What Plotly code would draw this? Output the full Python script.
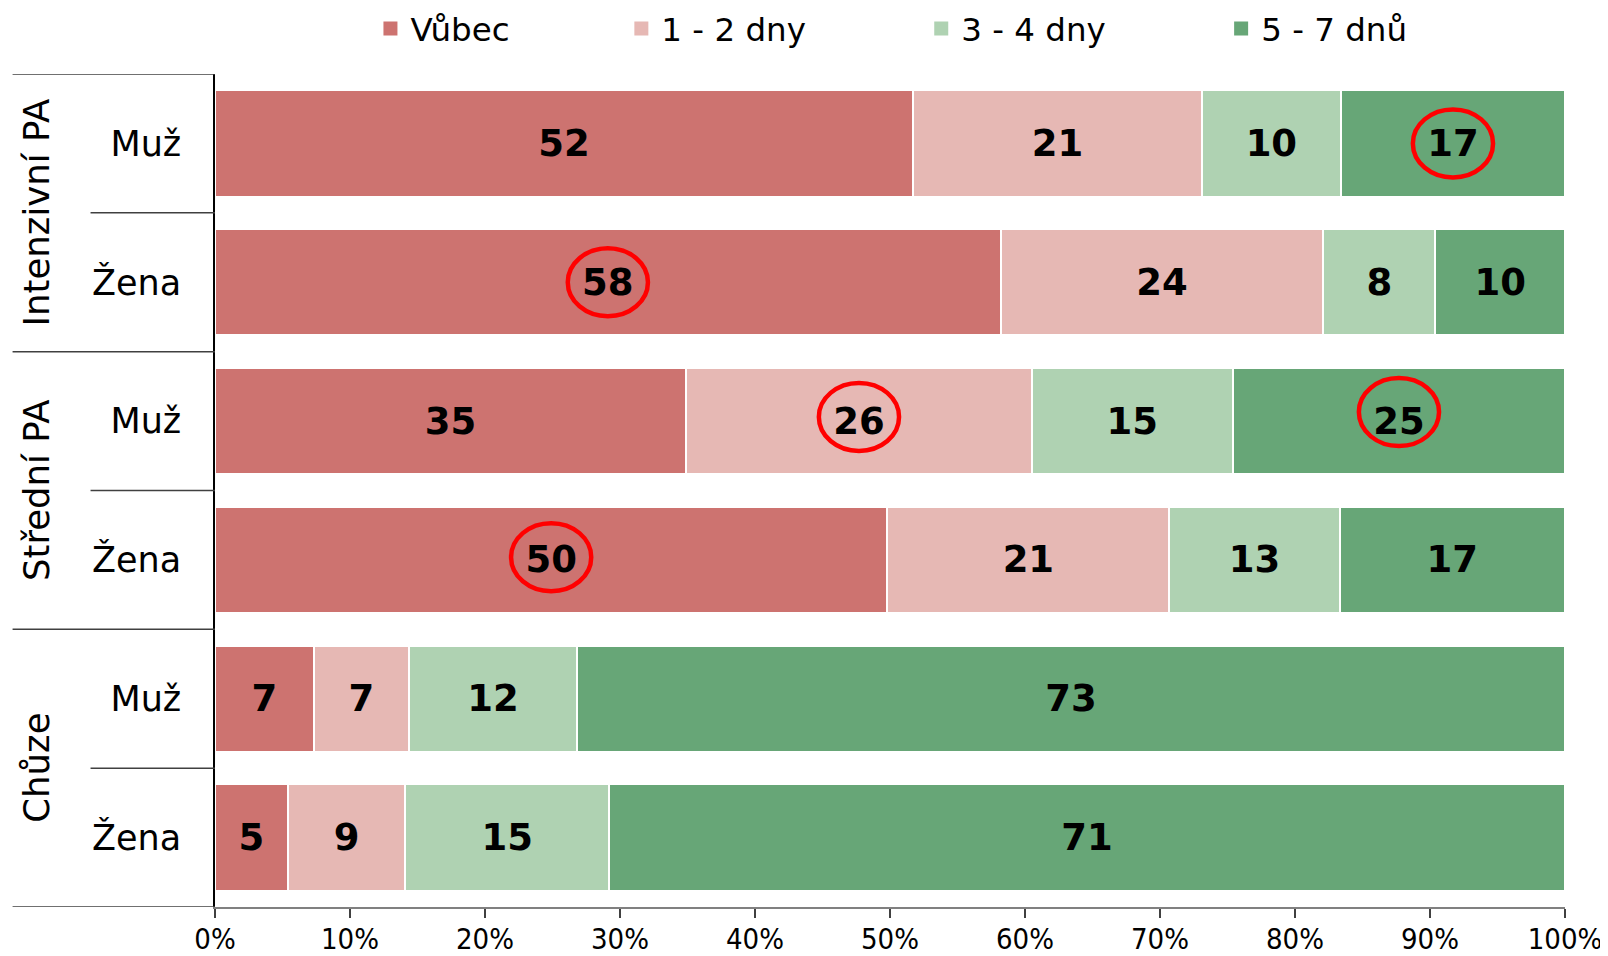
import plotly.graph_objects as go

# ---- data ----
groups = ["Intenzivní PA", "Střední PA", "Chůze"]
rows = ["Muž", "Žena", "Muž", "Žena", "Muž", "Žena"]
series_names = ["Vůbec", "1 - 2 dny", "3 - 4 dny", "5 - 7 dnů"]
vubec = [51.7, 58.2, 34.9, 49.8, 7.3, 5.4]
dny_1_2 = [21.4, 23.9, 25.6, 20.9, 7.1, 8.7]
dny_3_4 = [10.3, 8.3, 14.9, 12.6, 12.4, 15.1]
dny_5_7 = [16.6, 9.6, 24.6, 16.7, 73.2, 70.8]
x_ticks = [0, 10, 20, 30, 40, 50, 60, 70, 80, 90, 100]
x_tick_labels = ["0%", "10%", "20%", "30%", "40%", "50%", "60%", "70%", "80%", "90%", "100%"]
# highlighted (circled) values: (row index, series index)
highlights = [(0, 3), (1, 0), (2, 1), (2, 3), (3, 0)]

series_values = [vubec, dny_1_2, dny_3_4, dny_5_7]
colors = ["#CD7370", "#E6B8B4", "#AFD2B2", "#67A677"]

# ---- layout constants (pixels, page body has an 8px margin) ----
OFF = 8
W, H = 1608 - OFF, 956 - OFF
ml, mr, mt, mb = 214.5 - OFF, 43, 74 - OFF, 49.4
pw = W - ml - mr
ph = H - mt - mb


def px_to_paper_x(px):  # px in screen coordinates
    return (px - OFF - ml) / pw


def px_to_paper_y(py):
    return (H - mb - (py - OFF)) / ph


yv = list(range(len(rows)))
fig = go.Figure()
for i, (name, vals, col) in enumerate(zip(series_names, series_values, colors)):
    fig.add_trace(go.Bar(
        name=name, y=yv, x=vals, orientation="h",
        marker=dict(color=col, line=dict(color="white", width=2)),
        texttemplate="%{x:.0f}", textposition="inside", insidetextanchor="middle",
        textangle=0, constraintext="none",
        textfont=dict(family="DejaVu Sans", size=37, color="black", weight="bold"),
        hoverinfo="skip", showlegend=False,
    ))

# legend entries (square swatches), one legend per entry to reproduce spacing
legend_text_px = [410, 661, 961, 1261]
legend_kw = {}
for i, (name, col, tx) in enumerate(zip(series_names, colors, legend_text_px)):
    key = "legend" if i == 0 else f"legend{i+1}"
    fig.add_trace(go.Scatter(
        name=name, x=[None], y=[None], mode="markers",
        marker=dict(symbol="square", size=14, color=col),
        legend=key, showlegend=True, hoverinfo="skip",
    ))
    legend_kw[key] = dict(
        x=px_to_paper_x(tx - 40), y=px_to_paper_y(29), xanchor="left", yanchor="middle",
        orientation="h", bgcolor="rgba(0,0,0,0)", borderwidth=0, itemsizing="trace",
        font=dict(family="DejaVu Sans", size=32.5, color="black"),
    )

shapes = []
# divider lines on the left category area
for k in range(len(rows) + 1):
    b = k - 0.5
    long_line = (k % 2 == 0)
    x0 = px_to_paper_x(12) if long_line else px_to_paper_x(90)
    shapes.append(dict(type="line", xref="paper", yref="y", x0=x0, x1=0, y0=b, y1=b,
                       line=dict(color="#404040", width=1.5)))

# red circles around highlighted values
dy = {(0, 3): 0.0, (1, 0): 0.0, (2, 1): -0.03, (2, 3): -0.065, (3, 0): -0.02}
for (r, s) in highlights:
    start = sum(series_values[j][r] for j in range(s))
    cx = start + series_values[s][r] / 2
    cy = r + dy[(r, s)]
    shapes.append(dict(type="circle", xref="x", yref="y",
                       x0=cx - 2.97, x1=cx + 2.97, y0=cy - 0.245, y1=cy + 0.245,
                       line=dict(color="#FF0000", width=4.5)))

annotations = []
for gi, g in enumerate(groups):
    annotations.append(dict(text=g, xref="paper", yref="y", x=px_to_paper_x(36), y=2 * gi + 0.5,
                            textangle=-90, showarrow=False, xanchor="center", yanchor="middle",
                            font=dict(family="DejaVu Sans", size=35.5, color="black")))

fig.update_layout(
    width=W, height=H, barmode="stack", bargap=0.235, showlegend=True,
    margin=dict(l=ml, r=mr, t=mt, b=mb, pad=0, autoexpand=False),
    paper_bgcolor="white", plot_bgcolor="white",
    shapes=shapes, annotations=annotations,
    **legend_kw,
)
fig.update_xaxes(range=[0, 100], tickmode="array", tickvals=x_ticks, ticktext=x_tick_labels,
                 showgrid=False, zeroline=False, automargin=False,
                 showline=True, linecolor="#808080", linewidth=2, ticks="outside", ticklen=9,
                 tickcolor="#404040", tickwidth=1.5, ticklabelstandoff=-4,
                 tickfont=dict(family="DejaVu Sans Condensed, DejaVu Sans", size=29, color="black"))
fig.update_yaxes(range=[len(rows) - 0.5, -0.5], tickmode="array", tickvals=yv, ticktext=rows,
                 showgrid=False, automargin=False,
                 zeroline=False, showline=True, linecolor="black", linewidth=1.5, ticks="",
                 ticklabelstandoff=25,
                 tickfont=dict(family="DejaVu Sans", size=35, color="black"))

fig.write_html("out.html")
